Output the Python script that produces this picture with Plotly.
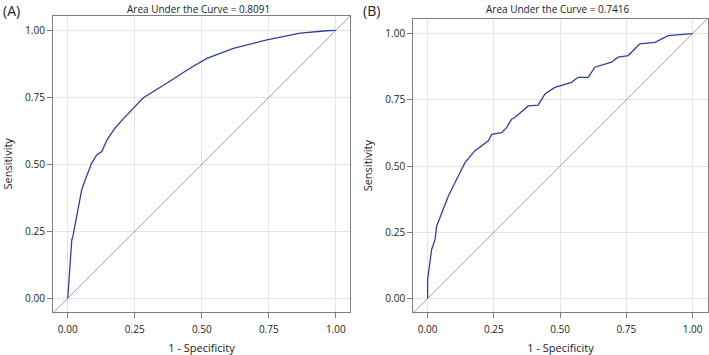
import plotly.graph_objects as go

# ROC curve A (1 - specificity, sensitivity)
fpr_a = [0.0, 0.015, 0.019, 0.034, 0.052, 0.065, 0.089, 0.108, 0.127, 0.146, 0.176, 0.207,
         0.282, 0.369, 0.456, 0.519, 0.618, 0.743, 0.867, 0.966, 1.0]
tpr_a = [0.0, 0.218, 0.230, 0.312, 0.405, 0.442, 0.504, 0.535, 0.548, 0.591, 0.635, 0.670,
         0.749, 0.803, 0.859, 0.896, 0.933, 0.965, 0.990, 0.999, 1.0]

# ROC curve B
fpr_b = [0.0, 0.0, 0.015, 0.028, 0.034, 0.059, 0.078, 0.103, 0.141, 0.178, 0.229, 0.242,
         0.279, 0.298, 0.317, 0.329, 0.380, 0.417, 0.443, 0.480, 0.543, 0.568, 0.606,
         0.631, 0.694, 0.719, 0.757, 0.801, 0.858, 0.908, 0.996, 1.0]
tpr_b = [0.0, 0.071, 0.184, 0.222, 0.273, 0.336, 0.386, 0.437, 0.513, 0.557, 0.595, 0.620,
         0.626, 0.645, 0.677, 0.683, 0.727, 0.730, 0.772, 0.797, 0.816, 0.835, 0.835,
         0.873, 0.892, 0.911, 0.917, 0.961, 0.967, 0.992, 1.0, 1.0]

ref_line = [-0.06, 1.06]
tick_vals = [0.0, 0.25, 0.5, 0.75, 1.0]
tick_text = ["0.00", "0.25", "0.50", "0.75", "1.00"]
titles = ["Area Under the Curve = 0.8091", "Area Under the Curve = 0.7416"]
panel_labels = ["(A)", "(B)"]
x_title = "1 - Specificity"
y_title = "Sensitivity"

W, H = 709, 355
FONT = "Open Sans"
CURVE = "#2F3F9E"
REF = "#A0A0A0"

fig = go.Figure()

panels = [
    dict(x="x", y="y", fx=fpr_a, fy=tpr_a, l=53, r=350, t=16, b=311.7,
         xr=[-0.055, 1.053], yr=[-0.05, 1.054]),
    dict(x="x2", y="y2", fx=fpr_b, fy=tpr_b, l=413.3, r=707.7, t=19, b=312.3,
         xr=[-0.054, 1.057], yr=[-0.052, 1.055]),
]

layout = {}
annotations = []
for i, p in enumerate(panels):
    fig.add_trace(go.Scatter(x=ref_line, y=ref_line, mode="lines",
                             line=dict(color=REF, width=1), xaxis=p["x"], yaxis=p["y"],
                             showlegend=False, hoverinfo="skip"))
    fig.add_trace(go.Scatter(x=p["fx"], y=p["fy"], mode="lines",
                             line=dict(color=CURVE, width=1.3), xaxis=p["x"], yaxis=p["y"],
                             showlegend=False))
    xk = "xaxis" if i == 0 else "xaxis2"
    yk = "yaxis" if i == 0 else "yaxis2"
    common = dict(showgrid=True, gridcolor="#E4E4E4", gridwidth=1, zeroline=False,
                  showline=True, linecolor="#7F7F7F", linewidth=1.3, mirror=True,
                  ticks="outside", ticklen=5, tickcolor="#7F7F7F",
                  tickvals=tick_vals, ticktext=tick_text,
                  tickfont=dict(family=FONT, size=10, color="#222"))
    layout[xk] = dict(common, domain=[p["l"] / W, p["r"] / W], range=p["xr"],
                      anchor=p["y"], ticklabelstandoff=3,
                      title=dict(text=x_title, font=dict(family=FONT, size=11, color="#222"),
                                 standoff=9))
    layout[yk] = dict(common, domain=[1 - p["b"] / H, 1 - p["t"] / H], range=p["yr"],
                      anchor=p["x"],
                      title=dict(text=y_title, font=dict(family=FONT, size=11, color="#222"),
                                 standoff=10))
    annotations.append(dict(text=titles[i], x=(p["l"] + p["r"]) / 2 / W - 0.004, y=1,
                            xref="paper", yref="paper", xanchor="center", yanchor="top",
                            showarrow=False, font=dict(family=FONT, size=10, color="#222")))
    annotations.append(dict(text=panel_labels[i], x=(1 if i == 0 else 361) / W, y=1 - 11 / H,
                            xref="paper", yref="paper", xanchor="left", yanchor="middle",
                            showarrow=False, font=dict(family=FONT, size=14, color="#222")))

fig.update_layout(width=W, height=H, margin=dict(l=0, r=0, t=0, b=0),
                  paper_bgcolor="white", plot_bgcolor="white",
                  annotations=annotations, **layout)

fig.write_html("out.html", config={"displayModeBar": False},
               post_script="document.body.style.margin='0';")
